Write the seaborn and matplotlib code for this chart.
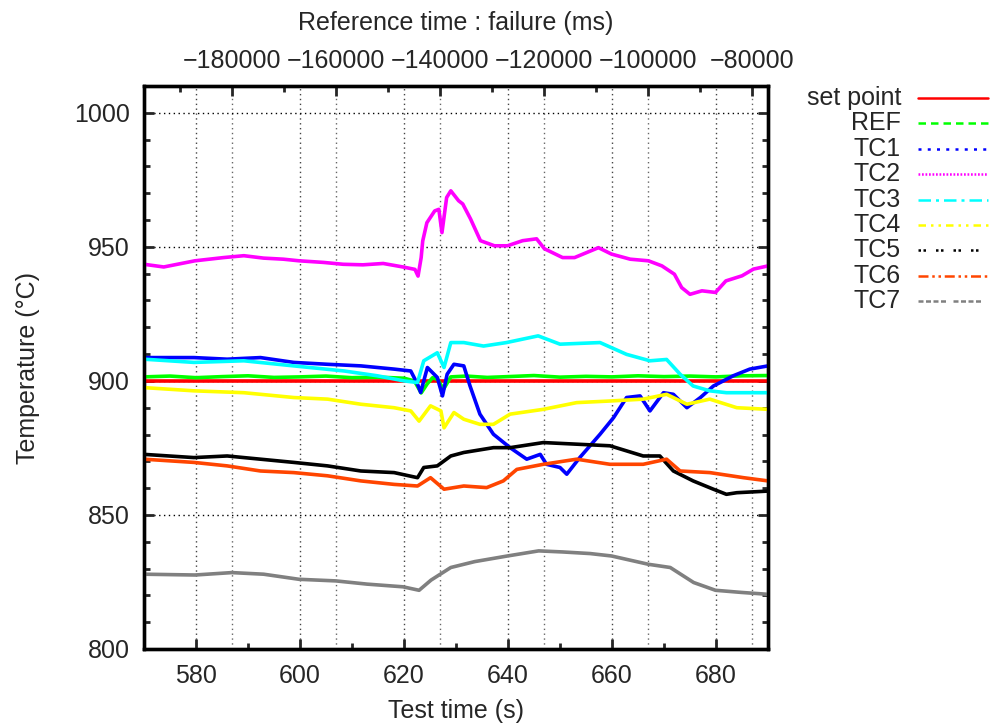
import matplotlib
matplotlib.use('Agg')
import matplotlib.pyplot as plt
from matplotlib.lines import Line2D
from matplotlib.ticker import MultipleLocator
import seaborn as sns

sns.set_style('white')
plt.rcParams['font.family'] = ['Liberation Sans', 'DejaVu Sans']

# Data (test time in s, temperature in degC)
FAIL_TIME = 766.9  # s, time of failure used for the top axis
T_START, T_END = 570, 690

set_t = [570, 690]
set_T = [900, 900]

ref_t = [570, 575, 580, 585, 590, 595, 600, 605, 610, 615, 620, 622, 623.3, 624.5, 625.5,
         626.5, 627.6, 629, 632, 636, 640, 645, 650, 655, 660, 665, 670, 675, 680, 685, 690]
ref_T = [901.5, 901.8, 901.2, 901.6, 901.9, 901.3, 901.5, 901.8, 901.2, 901.4, 901.0, 900.0, 895.5,
         899.0, 901.2, 900.5, 896.9, 901.5, 901.8, 901.3, 901.6, 902.0, 901.4, 901.7, 901.5,
         901.9, 901.6, 901.8, 901.5, 901.9, 902.0]

tc1_t = [570, 579.6, 586, 592.4, 598.8, 605.3, 611.7, 618.1, 621.3, 622.6, 623.2, 624.5, 626.4,
         627.4, 628.3, 629.6, 631.5, 632.7, 634.6, 637.2, 640.4, 643.6, 646.2, 647.4, 650, 651.3,
         653.8, 657.7, 660.3, 662.8, 665.4, 667.3, 669.9, 671.8, 674.4, 677, 679.5, 683.3, 686.5, 690]
tc1_T = [908.7, 908.7, 908.1, 908.7, 906.9, 906.2, 905.6, 904.4, 903.7, 898.8, 895.7, 905.0, 901.3,
         894.4, 902.5, 906.2, 905.6, 898.1, 887.6, 880.1, 875.1, 870.8, 872.6, 868.9, 867.7, 865.2,
         871.4, 880.1, 886.3, 893.8, 894.4, 888.8, 895.6, 895.0, 890.0, 893.8, 898.1, 901.9, 904.4, 905.6]

tc2_t = [570, 573.8, 579.8, 585.3, 589.2, 593, 596.8, 599.8, 604.5, 608.3, 612.1, 616, 619.8,
         622.1, 622.7, 623.3, 623.6, 624.4, 625.9, 626.7, 627.3, 628.2, 629, 630.5, 631.3, 632.8,
         634.7, 637.4, 639.9, 642.8, 645.5, 647, 650.5, 652.8, 657.4, 659.9, 663.5, 667, 669.6,
         672, 673.4, 675, 677.3, 679.9, 681.9, 685, 687.2, 690]
tc2_T = [943.5, 942.5, 944.8, 946.0, 946.7, 945.8, 945.4, 944.8, 944.2, 943.5, 943.3, 943.8, 942.5,
         941.6, 939.1, 946.0, 952.2, 959.0, 963.4, 964.0, 955.3, 968.4, 970.9, 967.2, 966.0, 960.4,
         952.3, 950.4, 950.4, 952.3, 953.0, 949.3, 946.0, 946.0, 949.7, 947.3, 945.4, 944.8, 942.9,
         939.8, 934.8, 932.3, 933.6, 933.0, 937.3, 939.2, 941.7, 942.9]

tc3_t = [570, 579.6, 589.2, 598.8, 608.5, 614.9, 620, 622.6, 623.8, 626.4, 627.7, 629, 631.5,
         635.3, 639.7, 645.8, 650, 657.7, 662.8, 667.3, 670.5, 673.1, 675.6, 678.8, 682, 690]
tc3_T = [908.1, 906.9, 907.5, 905.6, 903.7, 901.9, 900.0, 899.4, 907.5, 910.5, 905.0, 914.3, 914.3,
         913.0, 914.3, 916.8, 913.7, 914.3, 909.9, 907.5, 908.0, 902.5, 898.1, 896.3, 895.6, 895.6]

tc4_t = [570, 579.6, 589.2, 598.8, 605.3, 611.7, 618.1, 621.3, 622.9, 625.1, 627.1, 627.7, 629.6,
         631.5, 634.6, 637.2, 640.4, 646.8, 653.2, 659.6, 666, 670.5, 674.4, 678.8, 684, 690]
tc4_T = [897.5, 896.3, 895.6, 893.8, 893.2, 891.3, 890.0, 888.8, 885.0, 890.7, 888.8, 882.5, 888.2,
         885.7, 883.8, 883.8, 887.6, 889.4, 891.9, 892.5, 893.2, 895.0, 891.3, 893.2, 890.0, 889.4]

tc5_t = [570, 579.6, 586, 592.4, 598.8, 605.3, 611.7, 618.1, 622.6, 623.8, 626.4, 629, 631.5,
         637.2, 640.4, 646.8, 653.2, 659.6, 666, 669.2, 671.8, 675.6, 679.5, 682, 684, 690]
tc5_T = [872.6, 871.4, 872.0, 870.8, 869.6, 868.3, 866.4, 865.8, 863.9, 867.7, 868.3, 872.0, 873.3,
         875.1, 875.1, 877.0, 876.4, 875.8, 872.0, 872.0, 866.4, 862.7, 859.6, 857.7, 858.3, 858.9]

tc6_t = [570, 579.6, 586, 592.4, 598.8, 605.3, 611.7, 618.1, 622.6, 625.1, 627.7, 631.5, 635.9,
         639.1, 641.7, 646.8, 653.2, 659.6, 666, 670.5, 673.1, 678.8, 685.3, 690]
tc6_T = [870.8, 869.6, 868.3, 866.4, 865.8, 864.6, 862.7, 861.4, 860.8, 863.9, 859.6, 860.8, 860.2,
         862.7, 867.0, 868.9, 870.8, 868.9, 868.9, 870.8, 866.4, 865.8, 863.9, 862.7]

tc7_t = [570, 579.8, 586.9, 593, 599.8, 606.9, 612.9, 619.8, 622.9, 625.2, 629, 633.6, 639.9,
         645.9, 650.5, 655.8, 659.9, 667, 671.2, 675.7, 679.9, 684.9, 690]
tc7_T = [827.9, 827.6, 828.5, 827.9, 826.0, 825.4, 824.2, 823.2, 821.9, 825.7, 830.4, 832.6, 834.7,
         836.6, 836.2, 835.6, 834.7, 831.6, 830.4, 824.8, 821.9, 821.1, 820.4]

series = [
    ('set point', set_t, set_T, '#ff0000', '-'),
    ('REF', ref_t, ref_T, '#00ff00', (0, (3, 2))),
    ('TC1', tc1_t, tc1_T, '#0000ff', (0, (1.2, 2.5))),
    ('TC2', tc2_t, tc2_T, '#ff00ff', (0, (0.7, 0.7))),
    ('TC3', tc3_t, tc3_T, '#00ffff', (0, (5, 2, 1.2, 2))),
    ('TC4', tc4_t, tc4_T, '#ffff00', (0, (3, 2, 1, 2, 1, 2))),
    ('TC5', tc5_t, tc5_T, '#000000', (0, (1, 1, 1, 4))),
    ('TC6', tc6_t, tc6_T, '#ff4500', (0, (4, 1.5, 1, 1.5, 1, 1.5))),
    ('TC7', tc7_t, tc7_T, '#808080', (0, (2, 1, 2, 1, 2, 1, 2, 3))),
]

FS = 18

fig = plt.figure(figsize=(9.91, 7.26), dpi=100)
ax = fig.add_axes([144 / 991, 1 - 649 / 726, 624 / 991, 563 / 726])
ax2 = ax.twiny()
ax.set_zorder(ax2.get_zorder() + 1)
ax.patch.set_visible(False)

for name, t, T, col, ls in series:
    sns.lineplot(x=t, y=T, ax=ax, color=col, lw=2.6, legend=False)

ax.set_xlim(T_START, T_END)
ax.set_ylim(800, 1010)
ax.xaxis.set_major_locator(MultipleLocator(20))
ax.xaxis.set_minor_locator(MultipleLocator(10))
ax.yaxis.set_major_locator(MultipleLocator(50))
ax.yaxis.set_minor_locator(MultipleLocator(10))

ax2.set_xlim((T_START - FAIL_TIME) * 1000, (T_END - FAIL_TIME) * 1000)
ax2.xaxis.set_major_locator(MultipleLocator(20000))
ax2.xaxis.set_minor_locator(MultipleLocator(10000))

grid_kw = dict(linestyle=(0, (1, 2.5)), lw=1.0)
ax2.grid(axis='x', which='major', color='#666666', **grid_kw)
ax.grid(axis='x', which='major', color='#444444', **grid_kw)
ax.grid(axis='y', which='major', color='#000000', **grid_kw)

for a in (ax, ax2):
    for s in a.spines.values():
        s.set_linewidth(2.4)
        s.set_color('black')

ax.tick_params(axis='both', which='major', direction='in', length=7, width=2, labelsize=FS, pad=11)
ax.tick_params(axis='both', which='minor', direction='in', length=4, width=2)
ax.tick_params(axis='y', which='both', left=True, right=True)
ax.tick_params(axis='x', which='both', bottom=True, top=False)
ax.tick_params(axis='y', which='major', pad=10)
ax2.tick_params(axis='x', which='major', direction='in', length=7, width=2, labelsize=FS, pad=9)
ax2.tick_params(axis='x', which='minor', direction='in', length=4, width=2)

ax.set_xlabel('Test time (s)', fontsize=FS, labelpad=8)
ax.set_ylabel('Temperature (°C)', fontsize=FS, labelpad=25)
ax2.set_xlabel('Reference time : failure (ms)', fontsize=FS, labelpad=14)

# legend drawn outside the frame, text right-aligned like gnuplot's key
row_y = 98
for name, t, T, col, ls in series:
    yf = 1 - row_y / 726
    fig.text(901 / 991, yf, name, ha='right', va='center', fontsize=FS)
    fig.add_artist(Line2D([918 / 991, 988 / 991], [yf, yf], color=col, lw=1.8,
                          linestyle=ls, transform=fig.transFigure))
    row_y += 25.4

fig.savefig('out.png', dpi=100)
